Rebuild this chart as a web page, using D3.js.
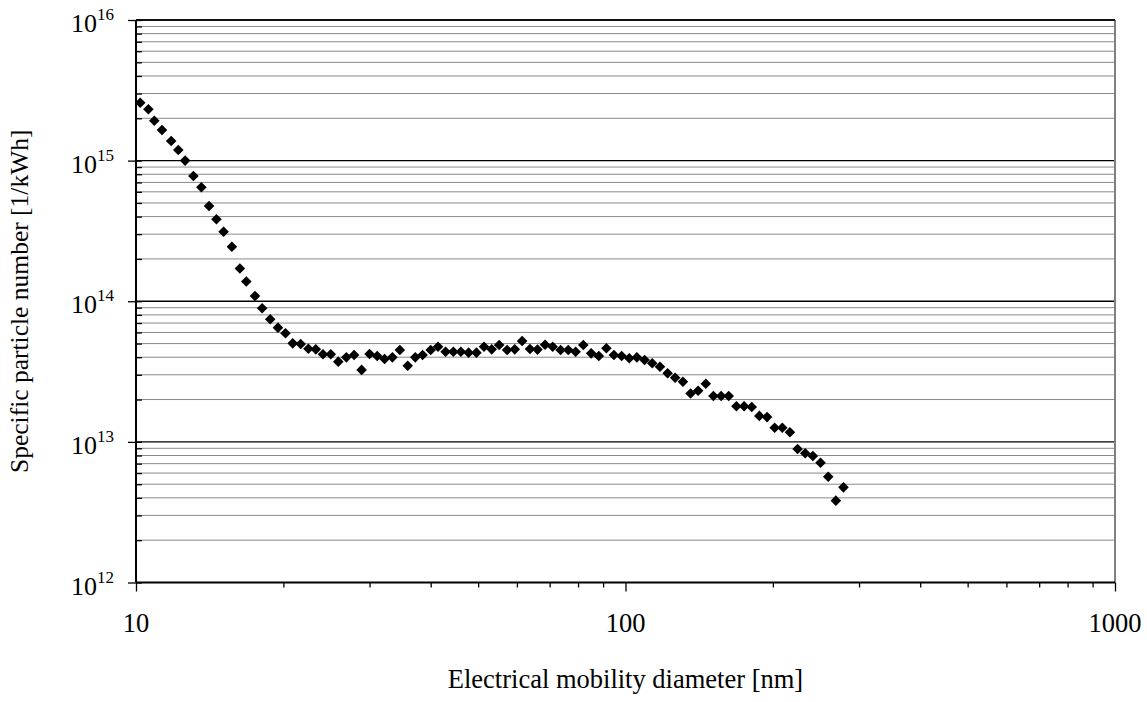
<!DOCTYPE html>
<html lang="en">
<head>
<meta charset="utf-8">
<title>Specific particle number vs. electrical mobility diameter</title>
<script src="https://cdn.jsdelivr.net/npm/d3@7"></script>
<style>
  body { margin: 0; background: #fff; }
  text { font-family: "Liberation Serif", "Times New Roman", serif; fill: #000; }
</style>
</head>
<body>
<script>

// SMPS channel midpoints [nm]
var diameters = [
  10.2, 10.6, 10.9, 11.3, 11.8, 12.2, 12.6, 13.1, 13.6, 14.1,
  14.6, 15.1, 15.7, 16.3, 16.8, 17.5, 18.1, 18.8, 19.5, 20.2,
  20.9, 21.7, 22.5, 23.3, 24.1, 25.0, 25.9, 26.9, 27.9, 28.9,
  30.0, 31.1, 32.2, 33.4, 34.6, 35.9, 37.2, 38.5, 40.0, 41.4,
  42.9, 44.5, 46.1, 47.8, 49.6, 51.4, 53.3, 55.2, 57.3, 59.4,
  61.5, 63.8, 66.1, 68.5, 71.0, 73.7, 76.4, 79.1, 82.0, 85.1,
  88.2, 91.4, 94.7, 98.2, 101.8, 105.5, 109.4, 113.4, 117.6, 121.9,
  126.3, 131.0, 135.8, 140.7, 145.9, 151.2, 156.8, 162.5, 168.5, 174.7,
  181.1, 187.7, 194.6, 201.7, 209.1, 216.7, 224.7, 232.9, 241.4, 250.3,
  259.5, 269.0, 278.8
];

// specific particle number [1/kWh]
var particleNumbers = [
  2.58e15, 2.32e15, 1.92e15, 1.65e15, 1.38e15, 1.19e15, 1.00e15, 7.78e14, 6.46e14, 4.76e14,
  3.83e14, 3.12e14, 2.44e14, 1.71e14, 1.38e14, 1.09e14, 8.91e13, 7.44e13, 6.49e13, 5.92e13,
  5.02e13, 4.97e13, 4.60e13, 4.55e13, 4.20e13, 4.20e13, 3.72e13, 3.99e13, 4.15e13, 3.25e13,
  4.22e13, 4.08e13, 3.88e13, 3.99e13, 4.50e13, 3.48e13, 3.99e13, 4.15e13, 4.50e13, 4.75e13,
  4.38e13, 4.38e13, 4.38e13, 4.31e13, 4.31e13, 4.75e13, 4.55e13, 4.89e13, 4.50e13, 4.55e13,
  5.21e13, 4.58e13, 4.53e13, 4.91e13, 4.75e13, 4.50e13, 4.50e13, 4.38e13, 4.89e13, 4.26e13,
  4.08e13, 4.63e13, 4.15e13, 4.08e13, 3.93e13, 3.99e13, 3.82e13, 3.62e13, 3.42e13, 3.08e13,
  2.86e13, 2.68e13, 2.21e13, 2.31e13, 2.59e13, 2.12e13, 2.12e13, 2.12e13, 1.79e13, 1.79e13,
  1.77e13, 1.53e13, 1.50e13, 1.26e13, 1.26e13, 1.17e13, 8.89e12, 8.29e12, 7.94e12, 7.11e12,
  5.65e12, 3.82e12, 4.75e12
];

var xMajorTicks = [10, 100, 1000];
var xMinorTicks = [20, 30, 40, 50, 60, 70, 80, 90, 200, 300, 400, 500, 600, 700, 800, 900];
var yExponents = [12, 13, 14, 15, 16];
var yMinorFactors = [2, 3, 4, 5, 6, 7, 8, 9];

var xTitle = "Electrical mobility diameter [nm]";
var yTitle = "Specific particle number [1/kWh]";

//Width and height
var w = 1147;
var h = 702;
var margin = { top: 20, right: 32, bottom: 119.5, left: 136 };

var dataset = diameters.map(function(d, i) {
  return { d: d, n: particleNumbers[i] };
});

var xScale = d3.scaleLog()
  .domain([10, 1000])
  .range([margin.left, w - margin.right]);

var yScale = d3.scaleLog()
  .domain([1e12, 1e16])
  .range([h - margin.bottom, margin.top]);

var yMajor = yExponents.map(function(e) { return Math.pow(10, e); });
var yMinor = [];
yExponents.slice(0, -1).forEach(function(e) {
  yMinorFactors.forEach(function(f) { yMinor.push(f * Math.pow(10, e)); });
});

var svg = d3.select("body")
  .append("svg")
  .attr("width", w)
  .attr("height", h);

var x0 = xScale.range()[0], x1 = xScale.range()[1];
var yb = yScale.range()[0], yt = yScale.range()[1];

//Minor grid lines
svg.append("g")
  .selectAll("line")
  .data(yMinor)
  .join("line")
  .attr("x1", x0).attr("x2", x1)
  .attr("y1", function(d) { return yScale(d); })
  .attr("y2", function(d) { return yScale(d); })
  .attr("stroke", "#8a8a8a")
  .attr("stroke-width", 1);

//Major grid lines
svg.append("g")
  .selectAll("line")
  .data(yMajor.slice(1))
  .join("line")
  .attr("x1", x0).attr("x2", x1)
  .attr("y1", function(d) { return yScale(d); })
  .attr("y2", function(d) { return yScale(d); })
  .attr("stroke", "#000")
  .attr("stroke-width", 1.3);

//Right border
svg.append("line")
  .attr("x1", x1).attr("x2", x1)
  .attr("y1", yt).attr("y2", yb)
  .attr("stroke", "#808080")
  .attr("stroke-width", 2);

//Y axis: major ticks outside, minor ticks inside
svg.append("g")
  .attr("transform", "translate(" + x0 + ",0)")
  .call(d3.axisLeft(yScale).tickValues(yMajor).tickSize(8).tickFormat(""))
  .call(function(g) { g.select(".domain").remove(); })
  .call(function(g) { g.selectAll(".tick line").attr("stroke", "#000").attr("stroke-width", 1.3); });

svg.append("g")
  .attr("transform", "translate(" + x0 + ",0)")
  .call(d3.axisRight(yScale).tickValues(yMinor.concat(yMajor)).tickSize(6).tickFormat(""))
  .call(function(g) { g.select(".domain").remove(); })
  .call(function(g) { g.selectAll(".tick line").attr("stroke", "#000").attr("stroke-width", 1.3); });

//X axis ticks
svg.append("g")
  .attr("transform", "translate(0," + yb + ")")
  .call(d3.axisBottom(xScale).tickValues(xMinorTicks).tickSize(5).tickFormat(""))
  .call(function(g) { g.select(".domain").remove(); })
  .call(function(g) { g.selectAll(".tick line").attr("stroke", "#000").attr("stroke-width", 1.3); });

svg.append("g")
  .attr("transform", "translate(0," + yb + ")")
  .call(d3.axisBottom(xScale).tickValues(xMajorTicks).tickSize(9).tickFormat(""))
  .call(function(g) { g.select(".domain").remove(); })
  .call(function(g) { g.selectAll(".tick line").attr("stroke", "#000").attr("stroke-width", 1.3); });

//Frame: left, bottom, top
svg.append("line")
  .attr("x1", x0).attr("x2", x0).attr("y1", yt).attr("y2", yb)
  .attr("stroke", "#000").attr("stroke-width", 2);
svg.append("line")
  .attr("x1", x0).attr("x2", x1).attr("y1", yb).attr("y2", yb)
  .attr("stroke", "#000").attr("stroke-width", 2);
svg.append("line")
  .attr("x1", x0).attr("x2", x1).attr("y1", yt).attr("y2", yt)
  .attr("stroke", "#000").attr("stroke-width", 1.5);

//Y tick labels 10^n
var ylab = svg.append("g")
  .selectAll("text")
  .data(yExponents)
  .join("text")
  .attr("x", x0 - 22)
  .attr("y", function(e) { return yScale(Math.pow(10, e)) + 12; })
  .attr("text-anchor", "end")
  .attr("font-size", "26px");
ylab.append("tspan").text("10");
ylab.append("tspan")
  .attr("dy", -12)
  .attr("font-size", "17px")
  .text(function(e) { return e; });

//X tick labels
svg.append("g")
  .selectAll("text")
  .data(xMajorTicks)
  .join("text")
  .attr("x", function(d) { return xScale(d); })
  .attr("y", 632)
  .attr("text-anchor", "middle")
  .attr("font-size", "26.5px")
  .text(function(d) { return d; });

//Axis titles
svg.append("text")
  .attr("x", (x0 + x1) / 2)
  .attr("y", 688)
  .attr("text-anchor", "middle")
  .attr("font-size", "26.5px")
  .text(xTitle);

svg.append("text")
  .attr("transform", "translate(28," + (yt + yb) / 2 + ") rotate(-90)")
  .attr("text-anchor", "middle")
  .attr("font-size", "25.5px")
  .text(yTitle);

//Data points (diamonds)
var diamond = d3.symbol().type(d3.symbolSquare).size(56);
svg.append("g")
  .selectAll("path")
  .data(dataset)
  .join("path")
  .attr("d", diamond)
  .attr("transform", function(d) {
    return "translate(" + xScale(d.d) + "," + yScale(d.n) + ") rotate(45)";
  })
  .attr("fill", "#000");

</script>
</body>
</html>
